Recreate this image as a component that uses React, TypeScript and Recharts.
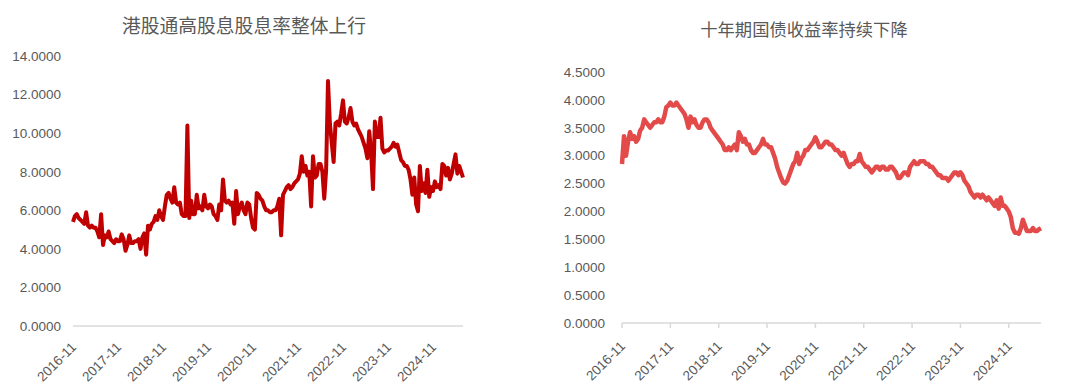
import { LineChart, Line, XAxis, YAxis } from 'recharts';

// semi-monthly samples starting 2016-11
const TICK_LABELS = ['2016-11', '2017-11', '2018-11', '2019-11', '2020-11', '2021-11', '2022-11', '2023-11', '2024-11'];

const HK_DIV_YIELD = [
  5.4, 5.7, 5.8, 5.6, 5.5, 5.4, 5.3, 5.9, 5.2, 5.1, 5.2, 5.1, 5.1, 4.9, 4.6, 5.8, 4.2, 4.7, 4.6, 4.9, 4.5, 4.4, 4.3, 4.5,
  4.4, 4.4, 4.75, 4.5, 3.9, 4.2, 4.7, 4.3, 4.3, 4.4, 4.4, 4.5, 4.0, 4.6, 4.8, 3.7, 5.2, 5.0, 5.3, 5.4, 5.7, 5.5, 6.0, 5.7,
  5.5, 6.2, 6.8, 6.9, 6.6, 6.4, 7.2, 6.4, 6.3, 6.4, 5.8, 5.7, 5.7, 10.4, 5.6, 6.5, 5.8, 5.8, 6.8, 6.1, 6.2, 6.0, 6.8, 6.2,
  6.1, 6.3, 6.2, 5.8, 5.7, 5.5, 6.3, 6.0, 7.6, 6.5, 6.4, 6.5, 6.3, 6.4, 5.3, 7.0, 5.8, 6.2, 6.4, 6.0, 5.8, 6.4, 6.3, 5.6,
  5.1, 5.0, 6.9, 6.8, 6.6, 6.5, 6.2, 6.0, 6.0, 5.9, 5.9, 6.0, 6.0, 6.2, 6.6, 4.7, 6.8, 7.0, 7.2, 7.3, 7.1, 7.2, 7.4, 7.5,
  7.6, 7.9, 8.8, 8.0, 8.3, 7.8, 8.0, 6.2, 8.8, 7.7, 7.8, 8.4, 8.4, 8.0, 6.6, 8.1, 12.7, 10.5, 9.5, 8.5, 10.5, 10.6, 10.4, 11.0,
  11.7, 10.6, 10.5, 10.8, 11.3, 10.6, 10.4, 10.5, 10.2, 10.0, 9.8, 9.5, 9.2, 8.7, 10.1, 9.0, 7.1, 10.6, 9.8, 9.8, 10.8, 9.2, 9.0, 9.1,
  9.1, 9.2, 9.3, 9.5, 9.3, 9.4, 9.0, 8.6, 8.5, 8.3, 8.3, 8.1, 7.6, 6.8, 7.7, 6.3, 5.95, 8.3, 7.0, 7.4, 6.9, 8.1, 6.7, 7.2,
  7.0, 7.5, 7.2, 7.3, 7.1, 8.4, 8.3, 7.8, 8.2, 7.6, 7.9, 8.4, 8.9, 7.9, 8.3, 8.0, 7.7,
];

const CGB_10Y = [
  2.85, 3.35, 3.0, 3.25, 3.42, 3.3, 3.35, 3.25, 3.3, 3.45, 3.5, 3.65, 3.6, 3.55, 3.5, 3.55, 3.6, 3.6, 3.65, 3.6, 3.6, 3.7, 3.87, 3.9,
  3.95, 3.9, 3.9, 3.95, 3.9, 3.85, 3.8, 3.75, 3.65, 3.5, 3.7, 3.6, 3.65, 3.55, 3.5, 3.5, 3.6, 3.65, 3.65, 3.6, 3.5, 3.45, 3.4, 3.35,
  3.3, 3.25, 3.2, 3.1, 3.1, 3.15, 3.1, 3.15, 3.2, 3.1, 3.42, 3.35, 3.25, 3.3, 3.2, 3.2, 3.1, 3.05, 3.05, 3.1, 3.15, 3.2, 3.3, 3.2,
  3.2, 3.15, 3.15, 3.05, 2.95, 2.8, 2.7, 2.6, 2.52, 2.5, 2.55, 2.65, 2.75, 2.85, 2.9, 3.05, 2.85, 2.95, 3.0, 3.1, 3.1, 3.15, 3.2, 3.25,
  3.33, 3.25, 3.15, 3.15, 3.2, 3.25, 3.25, 3.2, 3.2, 3.15, 3.1, 3.1, 3.05, 3.0, 3.05, 2.95, 2.85, 2.8, 2.85, 2.85, 2.9, 2.9, 3.03, 2.9,
  2.85, 2.8, 2.8, 2.75, 2.7, 2.75, 2.8, 2.8, 2.75, 2.8, 2.8, 2.75, 2.75, 2.8, 2.8, 2.75, 2.7, 2.6, 2.6, 2.65, 2.7, 2.7, 2.65, 2.8,
  2.85, 2.9, 2.85, 2.85, 2.9, 2.9, 2.9, 2.85, 2.85, 2.8, 2.8, 2.75, 2.7, 2.65, 2.65, 2.6, 2.6, 2.6, 2.55, 2.6, 2.65, 2.7, 2.7, 2.65,
  2.7, 2.65, 2.55, 2.5, 2.45, 2.35, 2.3, 2.25, 2.3, 2.3, 2.25, 2.3, 2.25, 2.2, 2.25, 2.2, 2.15, 2.1, 2.2, 2.05, 2.25, 2.1, 2.1, 2.05,
  2.0, 1.9, 1.7, 1.62, 1.62, 1.6, 1.7, 1.85, 1.75, 1.65, 1.65, 1.65, 1.7, 1.65, 1.65, 1.68, 1.7,
];

const LEFT_TICKS = [0, 2, 4, 6, 8, 10, 12, 14];
const RIGHT_TICKS = [0, 0.5, 1, 1.5, 2, 2.5, 3, 3.5, 4, 4.5];

const toRows = (vals: number[]) => vals.map((v, i) => ({ m: i / 2, v }));
const xTicks = TICK_LABELS.map((_, i) => i * 12);

const FONT = '"Liberation Sans", Arial, sans-serif';
const GRAY = '#595959';

const DateTick = ({ x, y, payload, offset }: any) => (
  <g transform={`translate(${x + 4},${y + offset})`}>
    <text x={0} y={0} textAnchor="end" fill={GRAY} fontSize={13.5} fontFamily={FONT} transform="rotate(-45)">
      {TICK_LABELS[Math.round(payload.value / 12)]}
    </text>
  </g>
);

const Title = ({ text, left, top, width, size }: any) => (
  <div
    style={{
      position: 'absolute',
      left,
      top,
      width,
      textAlign: 'center',
      fontFamily: '"Noto Sans CJK SC", sans-serif',
      fontSize: size,
      color: GRAY,
      lineHeight: 1,
    }}
  >
    {text}
  </div>
);

export default function App() {
  return (
    <div style={{ position: 'absolute', left: 0, top: 0, width: 1080, height: 391, background: '#fff', overflow: 'hidden' }}>
      <Title text="港股通高股息股息率整体上行" left={0} top={16} width={488} size={18.8} />
      <Title text="十年期国债收益率持续下降" left={540} top={20} width={528} size={17.3} />

      <div style={{ position: 'absolute', left: 0, top: 0 }}>
        <LineChart width={540} height={391} data={toRows(HK_DIV_YIELD)} margin={{ top: 56, right: 77, bottom: 25, left: 0 }}>
          <XAxis
            type="number"
            dataKey="m"
            domain={[0, 104]}
            ticks={xTicks}
            height={40}
            axisLine={{ stroke: '#d9d9d9', strokeWidth: 1.5 }}
            tickLine={false}
            tick={<DateTick offset={14} />}
            interval={0}
          />
          <YAxis
            domain={[0, 14]}
            ticks={LEFT_TICKS}
            width={73}
            axisLine={false}
            tickLine={false}
            tickMargin={6}
            tick={{ fill: GRAY, fontSize: 13.5, fontFamily: FONT }}
            tickFormatter={(v: number) => v.toFixed(4)}
          />
          <Line
            type="linear"
            dataKey="v"
            stroke="#C00000"
            strokeWidth={4}
            strokeLinejoin="round"
            dot={false}
            isAnimationActive={false}
          />
        </LineChart>
      </div>

      <div style={{ position: 'absolute', left: 540, top: 0 }}>
        <LineChart width={540} height={391} data={toRows(CGB_10Y)} margin={{ top: 72, right: 39, bottom: 28, left: 0 }}>
          <XAxis
            type="number"
            dataKey="m"
            domain={[0, 104]}
            ticks={xTicks}
            height={40}
            axisLine={{ stroke: '#d9d9d9', strokeWidth: 1.5 }}
            tickLine={{ stroke: '#d9d9d9', strokeWidth: 1.5 }}
            tickSize={5}
            tick={<DateTick offset={17} />}
            interval={0}
          />
          <YAxis
            domain={[0, 4.5]}
            ticks={RIGHT_TICKS}
            width={82}
            axisLine={false}
            tickLine={false}
            tickMargin={11}
            tick={{ fill: GRAY, fontSize: 13.5, fontFamily: FONT }}
            tickFormatter={(v: number) => v.toFixed(4)}
          />
          <Line
            type="linear"
            dataKey="v"
            stroke="#E34B4B"
            strokeWidth={4.5}
            strokeLinejoin="round"
            dot={false}
            isAnimationActive={false}
          />
        </LineChart>
      </div>
    </div>
  );
}
